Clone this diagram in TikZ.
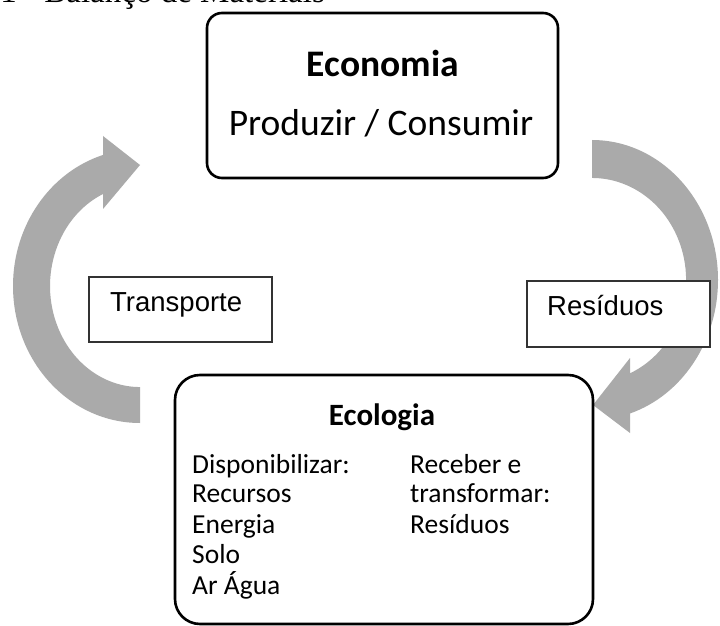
\documentclass[tikz,border=0pt]{standalone}
\usepackage{fontspec}
\newfontfamily\calfont{Carlito}
\newfontfamily\arialfont{Liberation Sans}
\newfontfamily\serifcap{Liberation Serif}
\definecolor{arrowgray}{RGB}{170,170,170}
\definecolor{boxedge}{RGB}{51,51,51}
\begin{document}
\begin{tikzpicture}[x=1pt,y=1pt,
  bigbox/.style={draw=black,line width=2.6pt,fill=white,rectangle,inner sep=0pt},
  smallbox/.style={draw=boxedge,line width=1.8pt,fill=white,rectangle,inner sep=0pt},
  titletext/.style={inner sep=0pt,anchor=base,font=\calfont\bfseries\fontsize{37.5}{44}\selectfont},
  subtext/.style={inner sep=0pt,anchor=base,font=\calfont\fontsize{37.5}{44}\selectfont},
  ecotitle/.style={inner sep=0pt,anchor=base,font=\calfont\bfseries\fontsize{31}{36}\selectfont},
  ecotext/.style={inner sep=0pt,anchor=base west,font=\calfont\fontsize{27.5}{31}\selectfont},
  labeltext/.style={inner sep=0pt,anchor=base west,font=\arialfont\fontsize{27.5}{31}\selectfont},
  grayarrow/.style={fill=arrowgray,draw=none}]
\useasboundingbox (0,0) rectangle (720,625);
\fill[white] (0,0) rectangle (720,625);
% caption (cut at the top)
\node[inner sep=0pt,anchor=base east,font=\serifcap\fontsize{33}{38}\selectfont] (caption) at (325,622) {1 - Balanço de Materiais};
% left circular arrow
\path[grayarrow] (140,202) arc[start angle=270,end angle=106.9,x radius=127,y radius=137]
  -- (103,489) -- (140,460) -- (103,416) -- (103,431)
  arc[start angle=114.3,end angle=270,x radius=90,y radius=101] -- cycle;
% right circular arrow
\path[grayarrow] (592,485) arc[start angle=90,end angle=-72.4,x radius=126,y radius=140]
  -- (630,192) -- (593,220) -- (630,267) -- (630,251.7)
  arc[start angle=-66.2,end angle=90,x radius=94,y radius=102] -- cycle;
% Economia box
\node[bigbox,rounded corners=15pt,minimum width=351pt,minimum height=165pt] (eco) at (382.5,529.5) {};
\node[titletext] (ecotitle) at (383,548) {Economia};
\node[subtext] (ecosub) at (381,489) {Produzir / Consumir};
% Ecologia box
\node[bigbox,rounded corners=25pt,minimum width=418pt,minimum height=249pt] (ecol) at (384,125.5) {};
\node[ecotitle] (ecoltitle) at (382,200) {Ecologia};
\node[ecotext] (d1) at (192,152) {Disponibilizar:};
\node[ecotext] (d2) at (192,122.5) {Recursos};
\node[ecotext] (d3) at (192,92) {Energia};
\node[ecotext] (d4) at (192,61.5) {Solo};
\node[ecotext] (d5) at (192,30.5) {Ar Água};
\node[ecotext] (r1) at (410,152) {Receber e};
\node[ecotext] (r2) at (410,122.5) {transformar:};
\node[ecotext] (r3) at (410,92) {Resíduos};
% label boxes
\node[smallbox,minimum width=183pt,minimum height=65pt] (transp) at (180.5,315.5) {};
\node[labeltext] (transptext) at (110,314) {Transporte};
\node[smallbox,minimum width=183pt,minimum height=66pt] (resid) at (618.5,311) {};
\node[labeltext] (residtext) at (547,310) {Resíduos};
\end{tikzpicture}
\end{document}
